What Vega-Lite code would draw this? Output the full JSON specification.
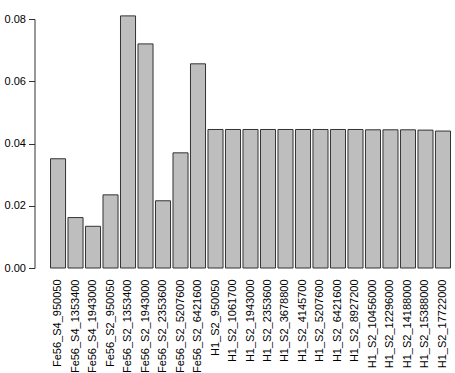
{
  "$schema": "https://vega.github.io/schema/vega-lite/v6.json",
  "autosize": {"type": "none"},
  "width": 400,
  "height": 249,
  "padding": {"left": 50.5, "top": 19, "right": 4.5, "bottom": 105},
  "background": "white",
  "config": {
    "view": {"stroke": null},
    "font": "Liberation Sans",
    "axis": {"labelFont": "Liberation Sans", "labelColor": "#000000", "labelFontSize": 11, "grid": false}
  },
  "data": {
    "values": [
      {"sample": "Fe56_S4_950050", "value": 0.0351},
      {"sample": "Fe56_S4_1353400", "value": 0.0162},
      {"sample": "Fe56_S4_1943000", "value": 0.0134},
      {"sample": "Fe56_S2_950050", "value": 0.0235},
      {"sample": "Fe56_S2_1353400", "value": 0.0810},
      {"sample": "Fe56_S2_1943000", "value": 0.0720},
      {"sample": "Fe56_S2_2353600", "value": 0.0216},
      {"sample": "Fe56_S2_5207600", "value": 0.0370},
      {"sample": "Fe56_S2_6421600", "value": 0.0656},
      {"sample": "H1_S2_950050", "value": 0.0445},
      {"sample": "H1_S2_1061700", "value": 0.0445},
      {"sample": "H1_S2_1943000", "value": 0.0445},
      {"sample": "H1_S2_2353600", "value": 0.0445},
      {"sample": "H1_S2_3678800", "value": 0.0445},
      {"sample": "H1_S2_4145700", "value": 0.0445},
      {"sample": "H1_S2_5207600", "value": 0.0445},
      {"sample": "H1_S2_6421600", "value": 0.0445},
      {"sample": "H1_S2_8927200", "value": 0.0445},
      {"sample": "H1_S2_10456000", "value": 0.0444},
      {"sample": "H1_S2_12296000", "value": 0.0444},
      {"sample": "H1_S2_14188000", "value": 0.0444},
      {"sample": "H1_S2_15388000", "value": 0.0443},
      {"sample": "H1_S2_17722000", "value": 0.0440}
    ]
  },
  "mark": {"type": "bar", "fill": "#bebebe", "stroke": "#333333", "strokeWidth": 1, "clip": false},
  "encoding": {
    "x": {
      "field": "sample",
      "type": "nominal",
      "sort": null,
      "scale": {"paddingInner": 0.14, "paddingOuter": 0},
      "axis": {"title": null, "labelAngle": 270, "ticks": false, "tickSize": 0, "domain": false, "labelPadding": 11, "labelFontSize": 11}
    },
    "y": {
      "field": "value",
      "type": "quantitative",
      "scale": {"domain": [0, 0.08], "nice": false, "zero": true},
      "axis": {"title": null, "values": [0, 0.02, 0.04, 0.06, 0.08], "format": ".2f", "offset": 16, "tickSize": 6, "labelPadding": 3, "domainColor": "#333333", "tickColor": "#333333", "labelFontSize": 11}
    }
  }
}
